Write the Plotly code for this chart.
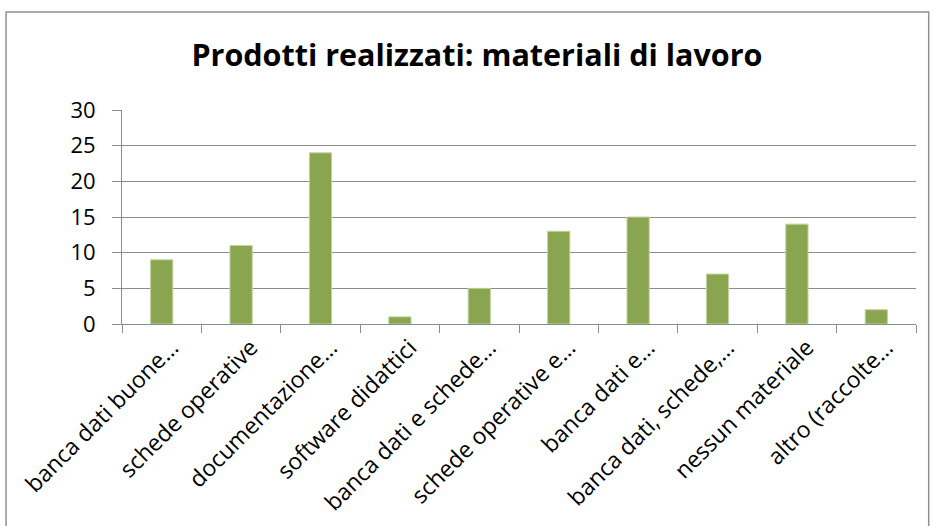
import plotly.graph_objects as go

# categorie e valori
categorie = [
    "banca dati buone…",
    "schede operative",
    "documentazione…",
    "software didattici",
    "banca dati e schede…",
    "schede operative e…",
    "banca dati e…",
    "banca dati, schede,…",
    "nessun materiale",
    "altro (raccolte…",
]
valori = [9, 11, 24, 1, 5, 13, 15, 7, 14, 2]

titolo = "Prodotti realizzati: materiali di lavoro"
grigio = "#8c8c8c"

fig = go.Figure(
    go.Bar(
        x=categorie,
        y=valori,
        marker=dict(color="#8aa54f", line=dict(color="#c3d49f", width=1)),
    )
)

fig.update_layout(
    width=937,
    height=526,
    margin=dict(l=122, r=21, t=110, b=202),
    paper_bgcolor="white",
    plot_bgcolor="white",
    bargap=0.72,
    showlegend=False,
    font=dict(family="Open Sans", size=22, color="black"),
    title=dict(
        text="<b>" + titolo + "</b>",
        x=0.509,
        xanchor="center",
        y=0.895,
        yanchor="middle",
        font=dict(family="Open Sans", size=30.5, color="black"),
    ),
)

fig.update_xaxes(
    type="category",
    tickangle=-45,
    tickfont=dict(size=23),
    ticklabelshift=10,
    tickson="boundaries",
    ticks="outside",
    ticklen=8,
    tickcolor=grigio,
    showline=True,
    linecolor=grigio,
    linewidth=1,
    showgrid=False,
    automargin=False,
)

fig.update_yaxes(
    range=[0, 30],
    dtick=5,
    ticks="outside",
    ticklen=9,
    tickcolor=grigio,
    ticklabelstandoff=12,
    showline=True,
    linecolor=grigio,
    showgrid=True,
    gridcolor=grigio,
    gridwidth=1,
    zeroline=False,
    automargin=False,
)

# cornice del grafico (il bordo inferiore esce dalla pagina)
fig.add_shape(
    type="rect",
    xref="paper",
    yref="paper",
    x0=-0.146,
    x1=1.016,
    y0=-1.3,
    y1=1.458,
    line=dict(color="#909090", width=1.5),
    layer="below",
)

# niente margine della pagina attorno al grafico
fig.write_html(
    "out.html",
    config={"displayModeBar": False},
    post_script="document.body.style.margin='0';",
)
